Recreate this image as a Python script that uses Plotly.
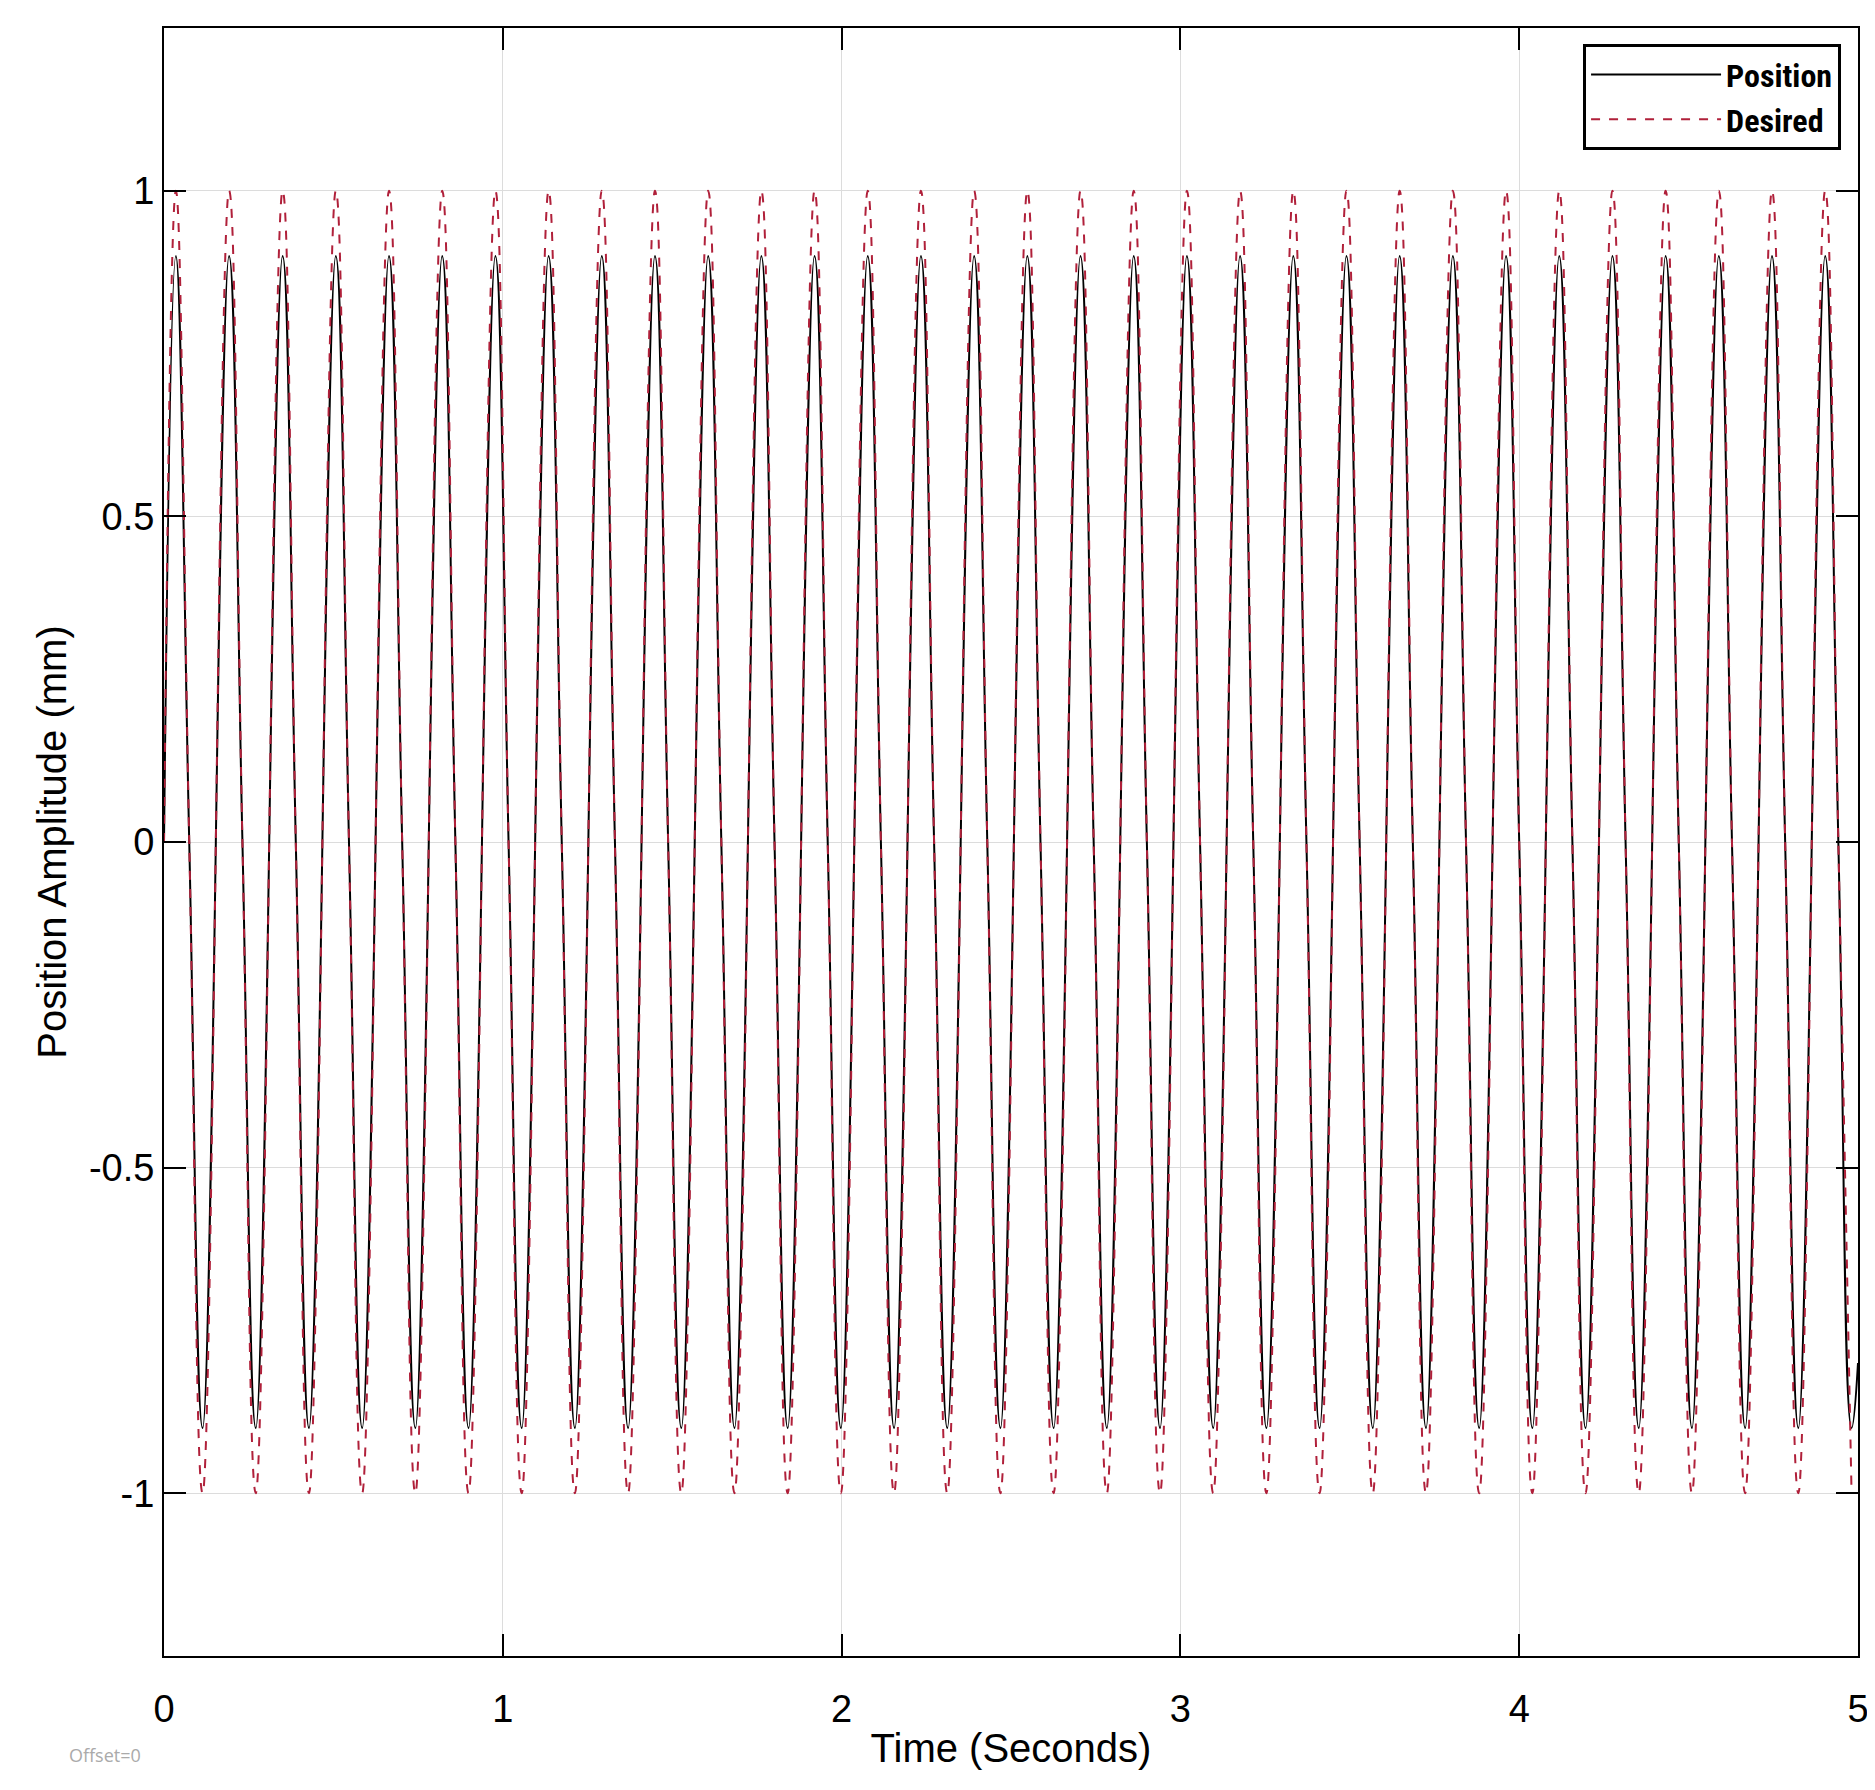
import plotly.graph_objects as go

# Times (s) of the crests and troughs of the waves
peak_times = [0.035,0.192,0.350,0.507,0.664,0.821,0.978,1.135,1.292,1.449,1.606,1.763,
              1.920,2.077,2.234,2.391,2.548,2.705,2.862,3.019,3.176,3.333,3.490,3.647,
              3.804,3.961,4.118,4.275,4.432,4.589,4.746,4.903]
trough_times = [0.114,0.271,0.428,0.585,0.742,0.899,1.056,1.213,1.370,1.527,1.684,1.841,
                1.998,2.155,2.312,2.469,2.626,2.783,2.940,3.097,3.254,3.411,3.568,3.725,
                3.882,4.039,4.196,4.353,4.510,4.667,4.824,4.981]
desired_peak = 1.0
desired_trough = -1.0
position_peak = 0.9
position_trough = -0.9
position_end = -0.8

def build(pk, tr, end=None):
    xs, ys = [0.0], [0.0]
    for p, t in zip(peak_times, trough_times):
        xs += [p, (p + t) / 2, t]
        ys += [pk, 0.0, tr]
    if end is not None:
        xs.append(5.0); ys.append(end)
    return xs, ys

dx, dy = build(desired_peak, desired_trough)
px, py = build(position_peak, position_trough, position_end)

fig = go.Figure()
fig.add_trace(go.Scatter(x=px, y=py, mode="lines", name="Position", line_shape="spline",
                         line=dict(color="black", width=2, smoothing=1.3)))
fig.add_trace(go.Scatter(x=dx, y=dy, mode="lines", name="Desired", line_shape="spline",
                         line=dict(color="#b0203a", width=2, dash="dash", smoothing=1.3)))

ax = dict(showline=True, linecolor="black", linewidth=2, mirror="ticks", ticks="inside",
          ticklen=22, tickwidth=2, tickcolor="black", showgrid=True, gridcolor="#dcdcdc",
          zeroline=False, tickfont=dict(size=38, family="Liberation Sans", color="black"),
          title_font=dict(size=40, family="Liberation Sans", color="black"))
fig.update_layout(
    width=1875, height=1790, plot_bgcolor="white", paper_bgcolor="white",
    margin=dict(l=156, r=25, t=20, b=142),
    xaxis=dict(range=[0, 5], tickvals=[0, 1, 2, 3, 4, 5], ticklabelstandoff=18,
               title=dict(text="Time (Seconds)", standoff=5), **ax),
    yaxis=dict(range=[-1.25, 1.25], tickvals=[-1, -0.5, 0, 0.5, 1],
               ticktext=["-1", "-0.5", "0", "0.5", "1"],
               title=dict(text="Position Amplitude (mm)", standoff=10), **ax),
    legend=dict(x=0.99, y=0.99, xanchor="right", yanchor="top", bgcolor="white",
                bordercolor="black", borderwidth=3, itemwidth=130,
                font=dict(size=32, family="Roboto Condensed, Roboto", color="black", weight="bold")),
    annotations=[dict(text="Offset=0", x=-0.035, y=0, xref="paper", yref="paper",
                      xanchor="center", yanchor="top", showarrow=False, yshift=-85,
                      font=dict(size=18, color="#aaaaaa"))],
)
fig.write_html("out.html")
